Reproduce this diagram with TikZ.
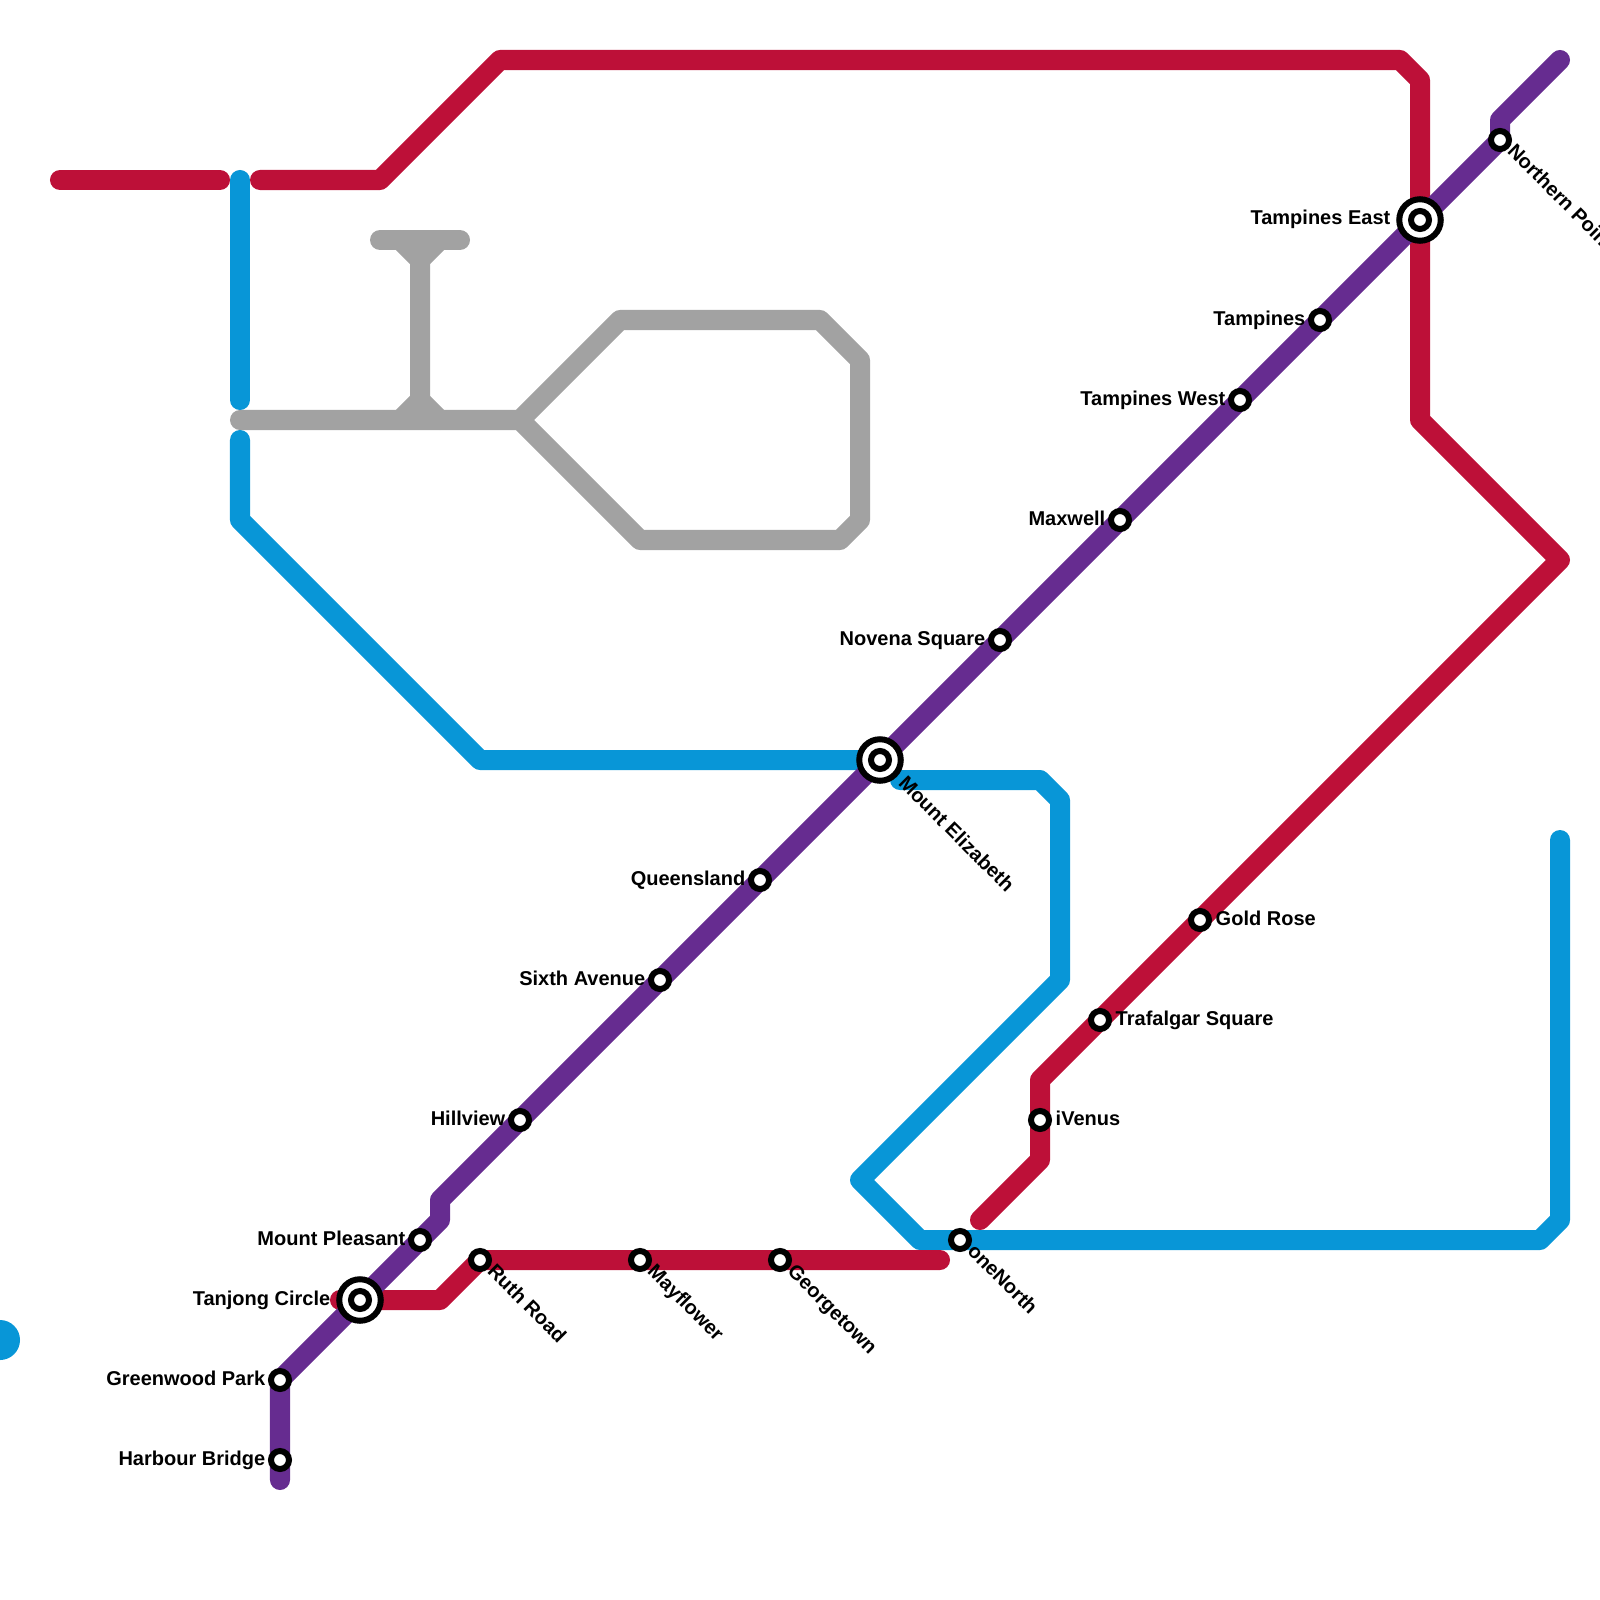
\documentclass[tikz,border=0pt]{standalone}
\usepackage{fontspec}
\setmainfont{Liberation Sans}
\definecolor{linered}{HTML}{BD1038}
\definecolor{lineblue}{HTML}{0896D7}
\definecolor{linepurple}{HTML}{662C90}
\definecolor{linegray}{HTML}{A2A2A2}
\pgfdeclarelayer{lines}
\pgfsetlayers{lines,main}
\begin{document}
\begin{tikzpicture}[
x=0.01cm,
y=-0.01cm,
metro/.style={
line width=2mm,
line cap=round,
line join=round
},
stn/.style={
circle,
draw=black,
fill=white,
line width=0.6mm,
minimum size=1.8mm,
inner sep=0,
outer sep=0
},
hubring/.style={
stn,
minimum size=4.15mm
},
lblleft/.style={
anchor=base east,
inner sep=0,
font=\fontsize{5.69pt}{6pt}\selectfont\bfseries
},
lblright/.style={
anchor=base west,
inner sep=0,
font=\fontsize{5.69pt}{6pt}\selectfont\bfseries
},
lbldown/.style={
lblright,
rotate=-45
}
]

\useasboundingbox (0,0) rectangle (1600,1600);

% stations on the purple line
\node[stn] (harbour) at (280,1460) {};
\node[stn] (greenwood) at (280,1380) {};
\node[hubring] (tanjongring) at (360,1300) {};
\node[stn] (tanjong) at (360,1300) {};
\node[stn] (pleasant) at (420,1240) {};
\node[stn] (hillview) at (520,1120) {};
\node[stn] (sixth) at (660,980) {};
\node[stn] (queensland) at (760,880) {};
\node[hubring] (elizabethring) at (880,760) {};
\node[stn] (elizabeth) at (880,760) {};
\node[stn] (novena) at (1000,640) {};
\node[stn] (maxwell) at (1120,520) {};
\node[stn] (tampwest) at (1240,400) {};
\node[stn] (tampines) at (1320,320) {};
\node[hubring] (tampeastring) at (1420,220) {};
\node[stn] (tampeast) at (1420,220) {};
\node[stn] (northern) at (1500,140) {};

% stations on the red line
\node[stn] (ruth) at (480,1260) {};
\node[stn] (mayflower) at (640,1260) {};
\node[stn] (georgetown) at (780,1260) {};
\node[stn] (ivenus) at (1040,1120) {};
\node[stn] (trafalgar) at (1100,1020) {};
\node[stn] (goldrose) at (1200,920) {};

% station on the blue line
\node[stn] (onenorth) at (960,1240) {};

% labels
\node[lblleft] (harbourL) at (266,1465) {Harbour Bridge};
\node[lblleft] (greenwoodL) at (266,1385) {Greenwood Park};
\node[lblleft] (tanjongL) at (331,1305) {Tanjong Circle};
\node[lblleft] (pleasantL) at (406,1245) {Mount Pleasant};
\node[lblleft] (hillviewL) at (506,1125) {Hillview};
\node[lblleft] (sixthL) at (646,985) {Sixth Avenue};
\node[lblleft] (queenslandL) at (746,885) {Queensland};
\node[lblleft] (novenaL) at (986,645) {Novena Square};
\node[lblleft] (maxwellL) at (1106,525) {Maxwell};
\node[lblleft] (tampwestL) at (1226,405) {Tampines West};
\node[lblleft] (tampinesL) at (1306,325) {Tampines};
\node[lblleft] (tampeastL) at (1391,225) {Tampines East};
\node[lblright] (ivenusL) at (1055,1125) {iVenus};
\node[lblright] (trafalgarL) at (1115,1025) {Trafalgar Square};
\node[lblright] (goldroseL) at (1215,925) {Gold Rose};
\node[lbldown] (elizabethL) at (897,784) {Mount Elizabeth};
\node[lbldown] (northernL) at (1506,152) {Northern Point};
\node[lbldown] (ruthL) at (486,1272) {Ruth Road};
\node[lbldown] (mayflowerL) at (646,1272) {Mayflower};
\node[lbldown] (georgetownL) at (786,1272) {Georgetown};
\node[lbldown] (onenorthL) at (966,1252) {oneNorth};

% blue dot at the edge
\node[circle,fill=lineblue,minimum size=4mm,inner sep=0] (bluedot) at (0,1340) {};

% ends and bends
\coordinate (redA) at (60,180);
\coordinate (redB) at (220,180);
\coordinate (redC) at (260,180);
\coordinate (redD) at (380,180);
\coordinate (redE) at (500,60);
\coordinate (redF) at (1400,60);
\coordinate (redG) at (1420,80);
\coordinate (redH) at (1420,420);
\coordinate (redI) at (1560,560);
\coordinate (redJ) at (1040,1080);
\coordinate (redK) at (1040,1160);
\coordinate (redL) at (980,1220);
\coordinate (redM) at (340,1300);
\coordinate (redN) at (440,1300);
\coordinate (redO) at (940,1260);
\coordinate (blueA) at (240,180);
\coordinate (blueB) at (240,400);
\coordinate (blueC) at (240,440);
\coordinate (blueD) at (240,520);
\coordinate (blueE) at (480,760);
\coordinate (blueF) at (900,780);
\coordinate (blueG) at (1040,780);
\coordinate (blueH) at (1060,800);
\coordinate (blueI) at (1060,980);
\coordinate (blueJ) at (860,1180);
\coordinate (blueK) at (920,1240);
\coordinate (blueL) at (1540,1240);
\coordinate (blueM) at (1560,1220);
\coordinate (blueN) at (1560,840);
\coordinate (purpleA) at (280,1480);
\coordinate (purpleB) at (440,1220);
\coordinate (purpleC) at (440,1200);
\coordinate (purpleD) at (1500,120);
\coordinate (purpleE) at (1560,60);
\coordinate (grayA) at (240,420);
\coordinate (grayB) at (520,420);
\coordinate (grayC) at (620,320);
\coordinate (grayD) at (820,320);
\coordinate (grayE) at (860,360);
\coordinate (grayF) at (860,520);
\coordinate (grayG) at (840,540);
\coordinate (grayH) at (640,540);
\coordinate (grayI) at (380,240);
\coordinate (grayJ) at (460,240);
\coordinate (grayK) at (400,240);
\coordinate (grayL) at (440,240);
\coordinate (grayM) at (420,260);
\coordinate (grayN) at (420,400);
\coordinate (grayO) at (400,420);
\coordinate (grayP) at (440,420);

\begin{pgfonlayer}{lines}
% gray
\draw[metro,linegray] (grayA) -- (grayB) -- (grayC) -- (grayD) -- (grayE) -- (grayF) -- (grayG) -- (grayH) -- (grayB);
\draw[metro,linegray] (grayI) -- (grayJ);
\draw[metro,linegray] (grayK) -- (grayM) -- (grayN) -- (grayO);
\draw[metro,linegray] (grayL) -- (grayM);
\draw[metro,linegray] (grayN) -- (grayP);

% blue
\draw[metro,lineblue] (blueA) -- (blueB);
\draw[metro,lineblue] (blueC) -- (blueD) -- (blueE) -- (elizabeth.center);
\draw[metro,lineblue] (blueF) -- (blueG) -- (blueH) -- (blueI) -- (blueJ) -- (blueK) -- (onenorth.center) -- (blueL) -- (blueM) -- (blueN);

% red
\draw[metro,linered] (redA) -- (redB);
\draw[metro,linered] (redC) -- (redD) -- (redE) -- (redF) -- (redG) -- (tampeast.center) -- (redH) -- (redI) -- (goldrose.center) -- (trafalgar.center) -- (redJ) -- (ivenus.center) -- (redK) -- (redL);
\draw[metro,linered] (redM) -- (tanjong.center) -- (redN) -- (ruth.center) -- (mayflower.center) -- (georgetown.center) -- (redO);

% purple
\draw[metro,linepurple] (purpleA) -- (harbour.center) -- (greenwood.center) -- (tanjong.center) -- (pleasant.center) -- (purpleB) -- (purpleC) -- (hillview.center) -- (sixth.center) -- (queensland.center) -- (elizabeth.center) -- (novena.center) -- (maxwell.center) -- (tampwest.center) -- (tampines.center) -- (tampeast.center) -- (northern.center) -- (purpleD) -- (purpleE);
\end{pgfonlayer}

\end{tikzpicture}
\end{document}
